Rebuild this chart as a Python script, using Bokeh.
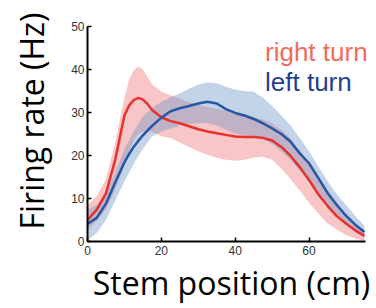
from bokeh.plotting import figure
from bokeh.models import Range1d, FixedTicker, Label
from bokeh.embed import file_html
from bokeh.resources import INLINE

# ---- data ----
position = [0, 2.5, 5, 7.5, 10, 11.25, 12.5, 13.75, 15, 16.25, 17.5, 20, 22.5, 25, 27.5, 30,
            32.5, 35, 37.5, 40, 42.5, 45, 47.5, 50, 52.5, 55, 57.5, 60, 62.5, 65, 67.5, 70,
            72.5, 75]

right_mean = [5.0, 7.4, 11.2, 19.0, 29.3, 31.6, 32.9, 33.4, 33.0, 32.0, 30.6, 28.9, 28.0, 27.5,
              26.8, 26.1, 25.6, 25.2, 24.8, 24.4, 24.3, 24.3, 24.1, 23.5, 22.0, 19.9, 17.3,
              14.3, 11.0, 8.3, 5.9, 4.2, 2.6, 1.3]
right_upper = [8.5, 10.5, 14.5, 23.0, 33.5, 37.5, 39.8, 40.7, 40.0, 38.3, 36.5, 34.8, 34.0, 33.2,
               32.4, 31.8, 31.3, 30.8, 30.4, 30.0, 29.6, 29.0, 28.4, 27.5, 26.0, 24.0, 21.0,
               18.0, 15.0, 12.0, 9.2, 6.5, 4.3, 2.5]
right_lower = [2.5, 4.8, 7.5, 12.0, 18.0, 21.0, 23.5, 25.0, 25.5, 25.7, 25.5, 24.5, 24.0, 23.0,
               22.0, 21.0, 20.2, 19.5, 19.0, 18.8, 19.0, 19.5, 19.7, 19.0, 17.0, 14.5, 11.8,
               9.0, 6.5, 4.2, 2.8, 1.5, 0.7, 0.2]

left_mean = [4.1, 5.5, 8.8, 13.7, 18.4, 20.3, 22.0, 23.4, 24.7, 25.8, 26.9, 28.8, 30.3, 31.0,
             31.5, 32.1, 32.5, 32.1, 30.8, 29.9, 29.3, 28.5, 27.5, 26.3, 25.0, 23.2, 20.5,
             18.2, 14.8, 11.3, 8.5, 6.0, 3.9, 2.2]
left_upper = [7.5, 8.5, 11.0, 16.0, 21.5, 23.5, 25.5, 27.3, 29.0, 30.1, 31.0, 32.5, 33.5, 34.5,
              35.5, 36.5, 37.0, 36.8, 36.0, 35.3, 35.0, 34.8, 33.5, 31.5, 29.3, 27.0, 24.0,
              21.0, 17.5, 14.0, 11.0, 8.5, 6.0, 3.7]
left_lower = [0.3, 2.0, 5.0, 9.5, 14.0, 16.0, 18.0, 19.8, 21.5, 23.0, 24.5, 25.5, 26.3, 27.0,
              27.3, 27.5, 27.5, 27.0, 26.0, 25.2, 24.7, 24.4, 23.8, 22.8, 21.0, 19.0, 16.5,
              14.0, 11.3, 8.5, 6.0, 4.0, 2.2, 0.8]

x_ticks = [0, 20, 40, 60]
y_ticks = [0, 10, 20, 30, 40, 50]

# ---- figure ----
p = figure(width=376, height=308, output_backend="svg", toolbar_location=None,
           x_range=Range1d(0, 78.0), y_range=Range1d(0, 56.05),
           min_border_left=87, min_border_right=1, min_border_top=0, min_border_bottom=67)
p.outline_line_color = None
p.grid.visible = False
p.background_fill_color = "white"

p.varea(x=position, y1=right_lower, y2=right_upper, fill_color="#f08080", fill_alpha=0.45)
p.varea(x=position, y1=left_lower, y2=left_upper, fill_color="#6a93c8", fill_alpha=0.4)
p.line(position, right_mean, line_color="#e8302c", line_width=2.5)
p.line(position, left_mean, line_color="#2557a6", line_width=2.5)

for ax in (p.xaxis[0], p.yaxis[0]):
    ax.axis_line_color = "black"
    ax.axis_line_width = 2
    ax.major_tick_line_color = "black"
    ax.major_tick_line_width = 1.5
    ax.major_tick_in = 4
    ax.major_tick_out = 0
    ax.minor_tick_line_color = None
    ax.major_label_text_font = "Liberation Sans"
    ax.major_label_text_font_size = "12px"
    ax.major_label_text_color = "#333333"
    ax.axis_label_text_font = "Open Sans"
    ax.axis_label_text_font_size = "32px"
    ax.axis_label_text_font_style = "normal"
    ax.axis_label_text_color = "black"
p.xaxis.ticker = FixedTicker(ticks=x_ticks)
p.yaxis.ticker = FixedTicker(ticks=y_ticks)
p.xaxis.bounds = (0, 75.3)
p.yaxis.bounds = (0, 50)
p.xaxis.major_label_standoff = 4
p.yaxis.major_label_standoff = 3
p.xaxis.axis_label = "Stem position (cm)"
p.yaxis.axis_label = "Firing rate (Hz)"
p.xaxis.axis_label_standoff = 3
p.yaxis.axis_label_standoff = 15

# legend texts
p.add_layout(Label(x=177.5, y=190, x_units="screen", y_units="screen",
                   text="right turn", text_font="Liberation Sans", text_font_size="26px",
                   text_color="#f26b5b", text_align="left", text_baseline="alphabetic"))
p.add_layout(Label(x=177.5, y=160, x_units="screen", y_units="screen",
                   text="left turn", text_font="Liberation Sans", text_font_size="26px",
                   text_color="#253f91", text_align="left", text_baseline="alphabetic"))

open("out.html", "w").write(file_html(p, INLINE))
